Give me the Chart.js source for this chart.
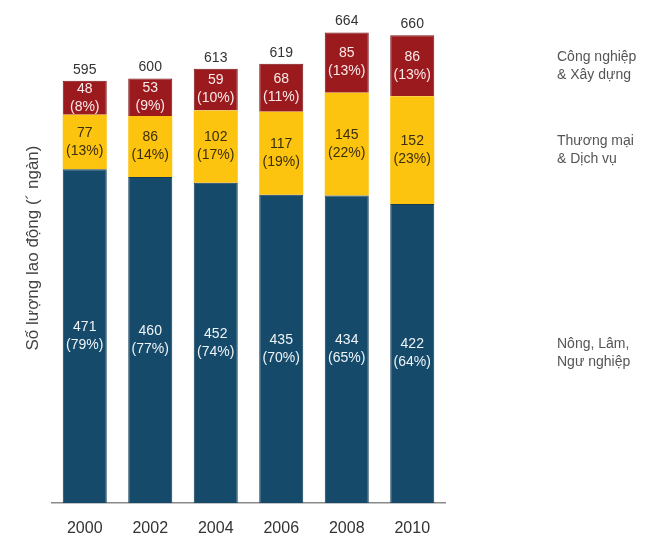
<!DOCTYPE html>
<html>
<head>
<meta charset="utf-8">
<script src="https://cdn.jsdelivr.net/npm/chart.js@4.4.0/dist/chart.umd.min.js"></script>
<style>
  html, body { margin: 0; padding: 0; background: #fff; }
  #wrap { width: 652px; height: 538px; }
</style>
</head>
<body>
<div id="wrap"><canvas id="laborChart"></canvas></div>
<script>
// Lao động theo ngành (nghìn người)
const years = ['2000', '2002', '2004', '2006', '2008', '2010'];
const nongLam = [471, 460, 452, 435, 434, 422];
const thuongMai = [77, 86, 102, 117, 145, 152];
const congNghiep = [48, 53, 59, 68, 85, 86];
const nongLamPct = [79, 77, 74, 70, 65, 64];
const thuongMaiPct = [13, 14, 17, 19, 22, 23];
const congNghiepPct = [8, 9, 10, 11, 13, 13];
const totals = [595, 600, 613, 619, 664, 660];
const sectorNames = [
    ['Nông, Lâm,', 'Ngư nghiệp'],
    ['Thương mại', '& Dịch vụ'],
    ['Công nghiệp', '& Xây dựng']
];
const yTitle = 'Số lượng lao động (\u00b4 ngàn)';

const FONT = '"Liberation Sans", Arial, sans-serif';

// labels inside segments, totals on top, sector names on the right
const labelPlugin = {
    id: 'segmentLabels',
    afterDatasetsDraw(chart) {
        const ctx = chart.ctx;
        const pcts = [nongLamPct, thuongMaiPct, congNghiepPct];
        const textColors = ['#eef4f8', '#3b2f0a', '#fbeaea'];
        ctx.save();
        ctx.textAlign = 'center';
        ctx.textBaseline = 'middle';
        chart.data.datasets.forEach((ds, di) => {
            const meta = chart.getDatasetMeta(di);
            ctx.font = '14px ' + FONT;
            meta.data.forEach((bar, i) => {
                const mid = (bar.y + bar.base) / 2;
                ctx.fillStyle = textColors[di];
                ctx.fillText(String(ds.data[i]), bar.x, mid - 9);
                ctx.fillText('(' + pcts[di][i] + '%)', bar.x, mid + 9);
            });
            // sector name beside last bar
            const last = meta.data[meta.data.length - 1];
            const mid = (last.y + last.base) / 2;
            ctx.textAlign = 'left';
            ctx.fillStyle = '#555';
            ctx.fillText(sectorNames[di][0], 557, mid - 9);
            ctx.fillText(sectorNames[di][1], 557, mid + 9);
            ctx.textAlign = 'center';
        });
        // totals
        const topMeta = chart.getDatasetMeta(2);
        ctx.font = '14px ' + FONT;
        ctx.fillStyle = '#333';
        topMeta.data.forEach((bar, i) => {
            ctx.fillText(String(totals[i]), bar.x, bar.y - 11);
        });
        // y axis title
        ctx.translate(33, 248);
        ctx.rotate(-Math.PI / 2);
        ctx.font = '17px ' + FONT;
        ctx.fillStyle = '#444';
        ctx.fillText(yTitle, 0, 0);
        ctx.restore();
    }
};

const barCtx = document.getElementById('laborChart').getContext('2d');

const laborChart = new Chart(barCtx, {
    type: 'bar',
    data: {
        labels: years,
        datasets: [
            {
                label: 'Nông, Lâm, Ngư nghiệp',
                data: nongLam,
                backgroundColor: '#154a6a',
                borderColor: '#113c56',
                borderWidth: 1
            },
            {
                label: 'Thương mại & Dịch vụ',
                data: thuongMai,
                backgroundColor: '#fcc30f',
                borderWidth: 0
            },
            {
                label: 'Công nghiệp & Xây dựng',
                data: congNghiep,
                backgroundColor: '#9a1a1d',
                borderColor: '#7a1216',
                borderWidth: 1
            }
        ]
    },
    options: {
        responsive: true,
        maintainAspectRatio: false,
        animation: false,
        layout: {
            padding: { left: 52, right: 207, top: 7, bottom: 0 }
        },
        datasets: {
            bar: {
                categoryPercentage: 0.84,
                barPercentage: 0.8
            }
        },
        plugins: {
            legend: { display: false },
            tooltip: { enabled: false }
        },
        scales: {
            x: {
                stacked: true,
                grid: { display: false, drawTicks: false },
                border: { display: true, color: '#8a8a8a', width: 1.5 },
                ticks: {
                    color: '#333',
                    font: { family: FONT, size: 16 },
                    padding: 16
                },
                afterFit(scale) {
                    scale.height = 35;
                }
            },
            y: {
                stacked: true,
                display: false,
                min: 0,
                max: 700
            }
        }
    },
    plugins: [labelPlugin]
});
</script>
</body>
</html>
